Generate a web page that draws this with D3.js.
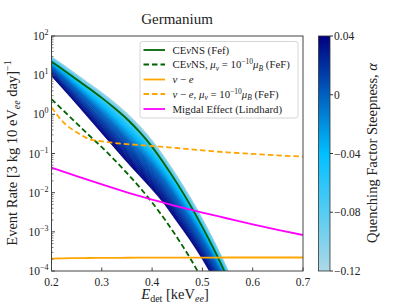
<!DOCTYPE html>
<html><head><meta charset="utf-8">
<script src="https://cdn.jsdelivr.net/npm/d3@7"></script>
<style>
html,body{margin:0;padding:0;background:#fff;}
svg{display:block;font-family:"Liberation Serif","DejaVu Serif",serif;}
</style></head>
<body><svg id="chart" width="407" height="305"></svg>
<script>
// ---------- data ----------
const xGrid = [0.2,0.225,0.25,0.275,0.3,0.325,0.35,0.375,0.4,0.425,0.45,0.475,0.5,0.525,0.55,0.575];
const alphas = [-0.12,-0.08,-0.04,0,0.04];
const bandAlphaM012 = [29.5,17.8,10.5,6.17,3.63,2.04,1.07,0.513,0.219,0.0794,0.0263,0.00794,0.00214,5.25e-4,1.10e-4,2.0e-5];
const bandAlphaM008 = [25.7,14.8,8.51,4.79,2.75,1.48,0.759,0.363,0.155,0.0575,0.0191,0.00589,0.00162,3.98e-4,8.7e-5,1.6e-5];
const bandAlphaM004 = [20.9,11.5,6.17,3.31,1.78,0.912,0.447,0.214,0.0912,0.0347,0.0117,0.00372,0.00105,2.69e-4,6.2e-5,1.0e-5];
const bandAlpha000  = [15.8,7.94,3.98,2.0,0.977,0.468,0.219,0.102,0.0447,0.0174,0.00603,0.00195,5.75e-4,1.55e-4,3.8e-5,7.9e-6];
const bandAlphaP004 = [9.55,4.17,1.82,0.776,0.331,0.141,0.0603,0.0269,0.0120,0.00501,0.00178,6.3e-4,2.0e-4,5.6e-5,1.6e-5,4e-6];
const cevnsFef = [21.9,13.2,7.76,4.57,2.63,1.45,0.759,0.355,0.148,0.0525,0.0170,0.00501,0.00132,3.16e-4,6.6e-5];
const cevnsMu  = [2.45,1.20,0.589,0.288,0.145,0.0692,0.0316,0.0138,0.00562,0.00209,7.08e-4,2.19e-4,6.0e-5];
const nuEx = [0.2,0.225,0.25,0.275,0.3,0.325,0.35,0.4,0.45,0.5,0.55,0.6,0.65,0.7];
const nuEMu = [1.51,0.603,0.347,0.234,0.204,0.186,0.174,0.155,0.138,0.120,0.107,0.0977,0.0891,0.0832];
const nuE   = [2.08e-4,2.11e-4,2.13e-4,2.15e-4,2.16e-4,2.17e-4,2.18e-4,2.19e-4,2.2e-4,2.2e-4,2.21e-4,2.21e-4,2.21e-4,2.21e-4];
const migX = [0.2,0.25,0.3,0.35,0.4,0.45,0.5,0.55,0.6,0.65,0.7];
const migdal = [0.0437,0.0263,0.0162,0.0102,0.00661,0.00447,0.00309,0.00219,0.00155,0.00112,8.3e-4];
const xTicks = [0.2,0.3,0.4,0.5,0.6,0.7];
const yTickExps = [-4,-3,-2,-1,0,1,2];
const cbTicks = [0.04,0,-0.04,-0.08,-0.12];
const cbTickLabels = ["0.04","0","−0.04","−0.08","−0.12"];
const cmapStops = ["#add8e6","#00bfff","#000080"];

// ---------- layout ----------
const L=51.5,R=303,T=36,B=271;
const svg=d3.select("#chart");
const x=d3.scaleLinear().domain([0.2,0.7]).range([L,R]);
const y=d3.scaleLog().domain([1e-4,1e2]).range([B,T]);
const cmap=d3.scaleLinear().domain([-0.12,-0.04,0.04]).range(cmapStops).interpolate(d3.interpolateRgb);

svg.append("defs").append("clipPath").attr("id","clip")
  .append("rect").attr("x",L).attr("y",T).attr("width",R-L).attr("height",B-T);
const plot=svg.append("g").attr("clip-path","url(#clip)");

// band
const curves=[bandAlphaM012,bandAlphaM008,bandAlphaM004,bandAlpha000,bandAlphaP004];
const sub=12;
for(let i=0;i<curves.length-1;i++){
  const c0=curves[i],c1=curves[i+1];
  for(let s=0;s<sub;s++){
    const f0=s/sub,f1=(s+1)/sub;
    const pts=xGrid.map((xv,k)=>{
      const l0=Math.log10(c0[k]),l1=Math.log10(c1[k]);
      return {x:xv,a:Math.pow(10,l0+(l1-l0)*f0),b:Math.pow(10,l0+(l1-l0)*f1)};
    });
    const col=cmap(alphas[i]+(alphas[i+1]-alphas[i])*(f0+f1)/2);
    plot.append("path").datum(pts)
      .attr("d",d3.area().x(d=>x(d.x)).y0(d=>y(d.a)).y1(d=>y(d.b)).curve(d3.curveMonotoneX))
      .attr("fill",col).attr("stroke",col).attr("stroke-width",0.6);
  }
}
const line=d3.line().x(d=>x(d[0])).y(d=>y(d[1])).curve(d3.curveMonotoneX);
function drawLine(xs,vs,color,dash,w){
  plot.append("path").datum(xs.slice(0,vs.length).map((xv,i)=>[xv,vs[i]]))
    .attr("d",line).attr("fill","none").attr("stroke",color).attr("stroke-width",w)
    .attr("stroke-dasharray",dash||null);
}
drawLine(xGrid,cevnsFef,"#006400",null,1.8);
drawLine(xGrid,cevnsMu,"#006400","5.5,3",1.8);
drawLine(nuEx,nuE,"#ffa500",null,1.8);
drawLine(nuEx,nuEMu,"#ffa500","5.5,3",1.8);
drawLine(migX,migdal,"#ff00ff",null,1.8);

// frame
svg.append("rect").attr("x",L).attr("y",T).attr("width",R-L).attr("height",B-T)
  .attr("fill","none").attr("stroke","#444").attr("stroke-width",1);

// x ticks
const ax=svg.append("g");
xTicks.forEach(t=>{
  ax.append("line").attr("x1",x(t)).attr("x2",x(t)).attr("y1",B).attr("y2",B-3.5).attr("stroke","#444");
  ax.append("text").attr("x",x(t)).attr("y",B+14.5).attr("text-anchor","middle")
    .attr("font-size",11.5).attr("fill","#222").text(t.toFixed(1));
});
// y ticks
yTickExps.forEach(e=>{
  const v=Math.pow(10,e);
  ax.append("line").attr("x1",L).attr("x2",L+3.5).attr("y1",y(v)).attr("y2",y(v)).attr("stroke","#444");
  const tx=ax.append("text").attr("x",L-3).attr("y",y(v)+4).attr("text-anchor","end")
    .attr("font-size",11.5).attr("fill","#222");
  tx.append("tspan").text("10");
  tx.append("tspan").attr("dy",-5).attr("font-size",8).text(e<0?"−"+(-e):String(e));
  if(e<2){
    for(let m=2;m<=9;m++){
      const mv=m*v;
      ax.append("line").attr("x1",L).attr("x2",L+2).attr("y1",y(mv)).attr("y2",y(mv)).attr("stroke","#444").attr("stroke-width",0.7);
    }
  }
});

// title & labels
svg.append("text").attr("x",177).attr("y",24).attr("text-anchor","middle").attr("font-size",15).attr("fill","#222").text("Germanium");
const xl=svg.append("text").attr("x",175).attr("y",299).attr("text-anchor","middle").attr("font-size",14.5).attr("fill","#222");
xl.append("tspan").attr("font-style","italic").text("E");
xl.append("tspan").attr("font-size",10).attr("dy",3).text("det");
xl.append("tspan").attr("dy",-3).text(" [keV");
xl.append("tspan").attr("font-size",10).attr("font-style","italic").attr("dy",3).text("ee");
xl.append("tspan").attr("dy",-3).text("]");
const yl=svg.append("text").attr("transform","translate(17,153) rotate(-90)").attr("text-anchor","middle").attr("font-size",14.5).attr("fill","#222");
yl.append("tspan").text("Event Rate [3 kg 10 eV");
yl.append("tspan").attr("font-size",10).attr("font-style","italic").attr("dy",3).text("ee");
yl.append("tspan").attr("dy",-3).text(" day]");
yl.append("tspan").attr("font-size",10).attr("dy",-6).text("−1");

// legend
const lg=svg.append("g");
lg.append("rect").attr("x",140).attr("y",41.5).attr("width",158).attr("height",76.5).attr("rx",2.5)
  .attr("fill","#fff").attr("fill-opacity",0.85).attr("stroke","#ccc").attr("stroke-width",0.8);
const legendItems=[
  {c:"#006400",d:null,parts:[["CE"],["ν","i"],["NS (Fef)"]]},
  {c:"#006400",d:"5.5,3",parts:[["CE"],["ν","i"],["NS, "],["μ","i"],["ν","sub"],[" = 10"],["−10","sup"],["μ","i"],["B","sub"],[" (FeF)"]]},
  {c:"#ffa500",d:null,parts:[["ν","i"],[" − "],["e","i"]]},
  {c:"#ffa500",d:"5.5,3",parts:[["ν","i"],[" − "],["e","i"],[", "],["μ","i"],["ν","sub"],[" = 10"],["−10","sup"],["μ","i"],["B","sub"],[" (FeF)"]]},
  {c:"#ff00ff",d:null,parts:[["Migdal Effect (Lindhard)"]]}
];
const rowY=[50,64.5,79.5,94,109];
legendItems.forEach((it,i)=>{
  lg.append("line").attr("x1",143.5).attr("x2",165).attr("y1",rowY[i]).attr("y2",rowY[i])
    .attr("stroke",it.c).attr("stroke-width",1.8).attr("stroke-dasharray",it.d);
  const t=lg.append("text").attr("x",172.5).attr("y",rowY[i]+3.5).attr("font-size",10.8).attr("fill","#222");
  let shift=0;
  it.parts.forEach(p=>{
    const sp=t.append("tspan").text(p[0]);
    let target=0;
    if(p[1]==="i") sp.attr("font-style","italic");
    if(p[1]==="sub"){target=2.5;sp.attr("font-size",7.5).attr("font-style","italic");}
    if(p[1]==="sup"){target=-4;sp.attr("font-size",7.5);}
    if(target!==shift){sp.attr("dy",target-shift);shift=target;}
  });
});

// colorbar
const cbL=318.5,cbW=11.5;
const cy=d3.scaleLinear().domain([-0.12,0.04]).range([B,T]);
const grad=svg.select("defs").append("linearGradient").attr("id","cbg").attr("x1",0).attr("y1",1).attr("x2",0).attr("y2",0);
d3.range(0,1.0001,0.05).forEach(f=>{
  grad.append("stop").attr("offset",f).attr("stop-color",cmap(-0.12+0.16*f));
});
svg.append("rect").attr("x",cbL).attr("y",T).attr("width",cbW).attr("height",B-T)
  .attr("fill","url(#cbg)").attr("stroke","#333").attr("stroke-width",0.8);
cbTicks.forEach((t,i)=>{
  svg.append("line").attr("x1",cbL+cbW).attr("x2",cbL+cbW+3).attr("y1",cy(t)).attr("y2",cy(t)).attr("stroke","#333");
  svg.append("text").attr("x",cbL+cbW+4).attr("y",cy(t)+4).attr("font-size",11.5).attr("fill","#222").text(cbTickLabels[i]);
});
const cl=svg.append("text").attr("transform","translate(377,153) rotate(-90)").attr("text-anchor","middle").attr("font-size",14.5).attr("fill","#222");
cl.append("tspan").text("Quenching Factor Steepness, ");
cl.append("tspan").attr("font-style","italic").text("α");
</script></body></html>
